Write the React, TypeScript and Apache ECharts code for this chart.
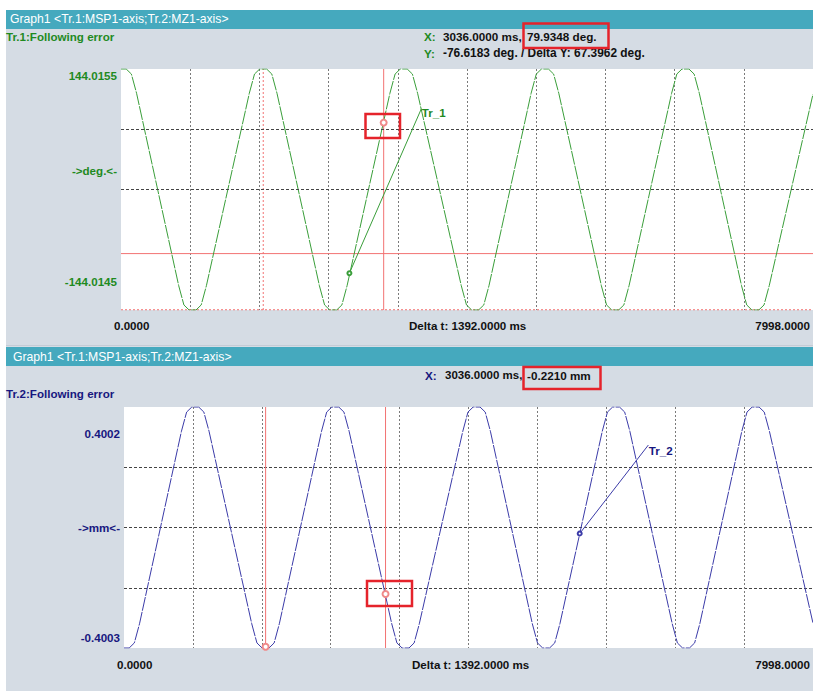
import { useEffect, useRef } from "react";
import * as echarts from "echarts";

// ---- data ----
const timesMs = [
  0, 60, 120, 180,
  667, 727, 787, 867, 927, 987,
  1483, 1543, 1603, 1683, 1743, 1803,
  2293, 2353, 2413, 2493, 2553, 2613,
  3108, 3168, 3228, 3308, 3368, 3428,
  3933, 3993, 4053, 4133, 4193, 4253,
  4740, 4800, 4860, 4940, 5000, 5060,
  5552, 5612, 5672, 5752, 5812, 5872,
  6364, 6424, 6484, 6564, 6624, 6684,
  7172, 7232, 7292, 7372, 7432, 7492,
  7998,
];
const tr1Deg = [
  144.0155, 144.0155, 138, 115,
  -115, -138, -144.0145, -144.0145, -138, -115,
  115, 138, 144.0155, 144.0155, 138, 115,
  -115, -138, -144.0145, -144.0145, -138, -115,
  115, 138, 144.0155, 144.0155, 138, 115,
  -115, -138, -144.0145, -144.0145, -138, -115,
  115, 138, 144.0155, 144.0155, 138, 115,
  -115, -138, -144.0145, -144.0145, -138, -115,
  115, 138, 144.0155, 144.0155, 138, 115,
  -115, -138, -144.0145, -144.0145, -138, -115,
  114,
];
const tr2Mm = [
  -0.4003, -0.4003, -0.3835, -0.32,
  0.32, 0.3835, 0.4002, 0.4002, 0.3835, 0.32,
  -0.32, -0.3835, -0.4003, -0.4003, -0.3835, -0.32,
  0.32, 0.3835, 0.4002, 0.4002, 0.3835, 0.32,
  -0.32, -0.3835, -0.4003, -0.4003, -0.3835, -0.32,
  0.32, 0.3835, 0.4002, 0.4002, 0.3835, 0.32,
  -0.32, -0.3835, -0.4003, -0.4003, -0.3835, -0.32,
  0.32, 0.3835, 0.4002, 0.4002, 0.3835, 0.32,
  -0.32, -0.3835, -0.4003, -0.4003, -0.3835, -0.32,
  0.32, 0.3835, 0.4002, 0.4002, 0.3835, 0.32,
  -0.318,
];

const graphTitle = "Graph1 <Tr.1:MSP1-axis;Tr.2:MZ1-axis>";
const tr1Title = "Tr.1:Following error";
const tr2Title = "Tr.2:Following error";
const xTickLabels = ["0.0000", "Delta t: 1392.0000 ms", "7998.0000"];
const tr1AxisLabels = ["144.0155", "->deg.<-", "-144.0145"];
const tr2AxisLabels = ["0.4002", "->mm<-", "-0.4003"];
const tr1ReadoutX = ["X:", "3036.0000 ms,", "79.9348 deg."];
const tr1ReadoutY = ["Y:", "-76.6183 deg. / Delta Y: 67.3962 deg."];
const tr2ReadoutX = ["X:", "3036.0000 ms,", "-0.2210 mm"];

// top panel shows only two horizontal grid lines
const tr1GridValues = [0.0005, 72.008];

const cursorMainMs = 3036;
const cursorRefMs = 1644;
const tr1CursorValue = 79.9348;
const tr1CursorY1 = -76.6183;
const tr1CursorY2 = -143.7;
const tr2CursorValue = -0.221;
const tr2RefValue = -0.3963;
const tr1Leader = [[2640, -100], [3471, 96.4]];
const tr2Leader = [[5290, -0.02], [6087, 0.274]];

const GREEN = "#1f8a1f";
const GREEN_LINE = "#3a9e3a";
const NAVY = "#17177f";
const NAVY_LINE = "#3b3ba8";
const PINK = "#f27272";
const RED = "#e5232b";
const TEAL = "#45a9be";
const BG = "#d5dce4";
const FONT = '"Liberation Sans", Arial, sans-serif';

function txt(text: string, x: number, y: number, color: string, align = "left", size = 11.6, weight = "bold") {
  return {
    type: "text",
    z: 50,
    silent: true,
    style: {
      text,
      x,
      y,
      fill: color,
      font: `${weight} ${size}px ${FONT}`,
      textAlign: align,
      align,
      textVerticalAlign: "middle",
      verticalAlign: "middle",
    },
  };
}

function box(x: number, y: number, w: number, h: number) {
  return {
    type: "rect",
    z: 60,
    silent: true,
    shape: { x, y, width: w, height: h },
    style: { fill: "none", stroke: RED, lineWidth: 2.5 },
  };
}

function cursorSeries(axis: number, data: number[][], dotted: boolean) {
  return {
    type: "line",
    xAxisIndex: axis,
    yAxisIndex: axis,
    symbol: "none",
    silent: true,
    z: 2,
    clip: false,
    lineStyle: { color: PINK, width: 1, opacity: 1, type: dotted ? [2, 2] : "solid" },
    emphasis: { disabled: true },
    data,
  };
}

const gridDark = { color: "#444", width: 1, type: [3, 2], opacity: 1 };

export default function App() {
  const ref = useRef<HTMLDivElement>(null);
  useEffect(() => {
    if (!ref.current) return;
    const chart = echarts.init(ref.current, null, { renderer: "svg" });

    const xAxisBase = {
      type: "value",
      min: 0,
      max: 7998,
      interval: 799.8,
      axisLabel: { show: false },
      axisLine: { show: false },
      axisTick: { show: false },
      splitLine: {
        show: true,
        showMinLine: false,
        showMaxLine: false,
        lineStyle: { color: "#7a7a7a", type: [2, 2], width: 1 },
      },
    };
    const yAxisBase = {
      type: "value",
      axisLabel: { show: false },
      axisLine: { show: false },
      axisTick: { show: false },
    };

    const option: any = {
      animation: false,
      backgroundColor: BG,
      grid: [
        { left: 121, top: 69, width: 692, height: 241, show: true, backgroundColor: "#fff", borderWidth: 0 },
        { left: 124, top: 407, width: 689, height: 241, show: true, backgroundColor: "#fff", borderWidth: 0 },
      ],
      xAxis: [
        { ...xAxisBase, gridIndex: 0 },
        { ...xAxisBase, gridIndex: 1 },
      ],
      yAxis: [
        {
          ...yAxisBase,
          gridIndex: 0,
          min: -144.015,
          max: 144.015,
          interval: 72.0075,
          splitLine: { show: false },
        },
        {
          ...yAxisBase,
          gridIndex: 1,
          min: -0.4003,
          max: 0.4003,
          interval: 0.20015,
          splitLine: { show: true, showMinLine: false, showMaxLine: false, lineStyle: gridDark },
        },
      ],
      series: [
        cursorSeries(0, [[cursorMainMs, -144.015], [cursorMainMs, 144.015]], false),
        cursorSeries(0, [[cursorRefMs, -144.015], [cursorRefMs, 144.015]], true),
        cursorSeries(0, [[0, tr1CursorY1], [7998, tr1CursorY1]], false),
        cursorSeries(0, [[0, tr1CursorY2], [7998, tr1CursorY2]], true),
        cursorSeries(1, [[cursorMainMs, -0.4003], [cursorMainMs, 0.4003]], false),
        cursorSeries(1, [[cursorRefMs, -0.4003], [cursorRefMs, 0.4003]], false),
        {
          name: "Tr_1",
          type: "line",
          xAxisIndex: 0,
          yAxisIndex: 0,
          symbol: "none",
          silent: true,
          z: 3,
          lineStyle: { color: GREEN_LINE, width: 1, type: [14, 1.2] },
          data: timesMs.map((t, i) => [t, tr1Deg[i]]),
          markLine: {
            silent: true,
            symbol: ["none", "none"],
            label: { show: false },
            emphasis: { disabled: true },
            data: [
              ...tr1GridValues.map((v) => [
                { coord: [0, v], lineStyle: gridDark },
                { coord: [7998, v] },
              ]),
              [
                { coord: tr1Leader[0], symbol: "emptyCircle", symbolSize: 4, lineStyle: { color: GREEN_LINE, width: 1, type: "solid" } },
                { coord: tr1Leader[1], symbol: "none" },
              ],
            ],
          },
          markPoint: {
            silent: true,
            data: [
              {
                coord: [cursorMainMs, tr1CursorValue],
                symbol: "emptyCircle",
                symbolSize: 6,
                itemStyle: { color: "#f08a8a" },
                label: { show: false },
              },
              {
                coord: tr1Leader[1],
                symbol: "circle",
                symbolSize: 1,
                itemStyle: { color: "transparent" },
                label: {
                  show: true,
                  formatter: "Tr_1",
                  position: "right",
                  distance: 0,
                  offset: [0, 4],
                  color: GREEN,
                  fontFamily: FONT,
                  fontWeight: "bold",
                  fontSize: 11.6,
                },
              },
            ],
          },
        },
        {
          name: "Tr_2",
          type: "line",
          xAxisIndex: 1,
          yAxisIndex: 1,
          symbol: "none",
          silent: true,
          z: 3,
          lineStyle: { color: NAVY_LINE, width: 1, type: [14, 1.2] },
          data: timesMs.map((t, i) => [t, tr2Mm[i]]),
          markLine: {
            silent: true,
            symbol: ["none", "none"],
            label: { show: false },
            emphasis: { disabled: true },
            data: [
              [
                { coord: tr2Leader[0], symbol: "emptyCircle", symbolSize: 4, lineStyle: { color: NAVY_LINE, width: 1, type: "solid" } },
                { coord: tr2Leader[1], symbol: "none" },
              ],
            ],
          },
          markPoint: {
            silent: true,
            data: [
              {
                coord: [cursorMainMs, tr2CursorValue],
                symbol: "emptyCircle",
                symbolSize: 6,
                itemStyle: { color: "#f08a8a" },
                label: { show: false },
              },
              {
                coord: [cursorRefMs, tr2RefValue],
                symbol: "emptyCircle",
                symbolSize: 6,
                itemStyle: { color: "#f08a8a" },
                label: { show: false },
              },
              {
                coord: tr2Leader[1],
                symbol: "circle",
                symbolSize: 1,
                itemStyle: { color: "transparent" },
                label: {
                  show: true,
                  formatter: "Tr_2",
                  position: "right",
                  distance: 0,
                  offset: [0, 5],
                  color: NAVY,
                  fontFamily: FONT,
                  fontWeight: "bold",
                  fontSize: 11.6,
                },
              },
            ],
          },
        },
      ],
      graphic: {
        elements: [
          { type: "rect", z: 1, silent: true, shape: { x: 0, y: 0, width: 813, height: 10 }, style: { fill: "#fff" } },
          { type: "rect", z: 1, silent: true, shape: { x: 0, y: 0, width: 6, height: 691 }, style: { fill: "#fff" } },
          { type: "rect", z: 1, silent: true, shape: { x: 6, y: 10, width: 807, height: 19 }, style: { fill: TEAL } },
          { type: "rect", z: 1, silent: true, shape: { x: 6, y: 347, width: 807, height: 19 }, style: { fill: TEAL } },
          { type: "line", z: 1, silent: true, shape: { x1: 6, y1: 345.5, x2: 813, y2: 345.5 }, style: { stroke: "#c4ccd6", lineWidth: 1 } },
          txt(graphTitle, 10, 19, "#fff", "left", 12.2, "normal"),
          txt(graphTitle, 13, 357, "#fff", "left", 12.2, "normal"),
          txt(tr1Title, 6, 36, GREEN),
          txt(tr2Title, 6, 393, NAVY),
          txt(tr1ReadoutX[0], 424, 36, GREEN, "left", 11.7),
          txt(tr1ReadoutX[1], 443, 36, "#111", "left", 11.7),
          txt(tr1ReadoutX[2], 527, 36, "#111", "left", 11.7),
          txt(tr1ReadoutY[0], 424, 53, GREEN, "left", 11.7),
          txt(tr1ReadoutY[1], 443, 53, "#111", "left", 11.9),
          txt(tr2ReadoutX[0], 425, 375, NAVY, "left", 11.7),
          txt(tr2ReadoutX[1], 445, 375, "#111", "left", 11.5),
          txt(tr2ReadoutX[2], 527, 375, "#111", "left", 11.7),
          txt(tr1AxisLabels[0], 117, 75, GREEN, "right"),
          txt(tr1AxisLabels[1], 117, 170, GREEN, "right"),
          txt(tr1AxisLabels[2], 117, 281, GREEN, "right"),
          txt(tr2AxisLabels[0], 120, 433, NAVY, "right"),
          txt(tr2AxisLabels[1], 120, 527, NAVY, "right"),
          txt(tr2AxisLabels[2], 120, 637, NAVY, "right"),
          txt(xTickLabels[0], 114, 325, "#111"),
          txt(xTickLabels[1], 409, 325, "#111"),
          txt(xTickLabels[2], 810, 325, "#111", "right"),
          txt(xTickLabels[0], 117, 664, "#111"),
          txt(xTickLabels[1], 412, 664, "#111"),
          txt(xTickLabels[2], 810, 664, "#111", "right"),
          box(523.5, 23.5, 85, 24.5),
          box(523.5, 367, 77, 22),
          box(365.5, 114, 34.5, 24),
          box(367, 581, 45, 25),
        ],
      },
    };

    chart.setOption(option);
    return () => chart.dispose();
  }, []);

  return (
    <div
      ref={ref}
      style={{ position: "absolute", left: 0, top: 0, width: 813, height: 691 }}
    />
  );
}
